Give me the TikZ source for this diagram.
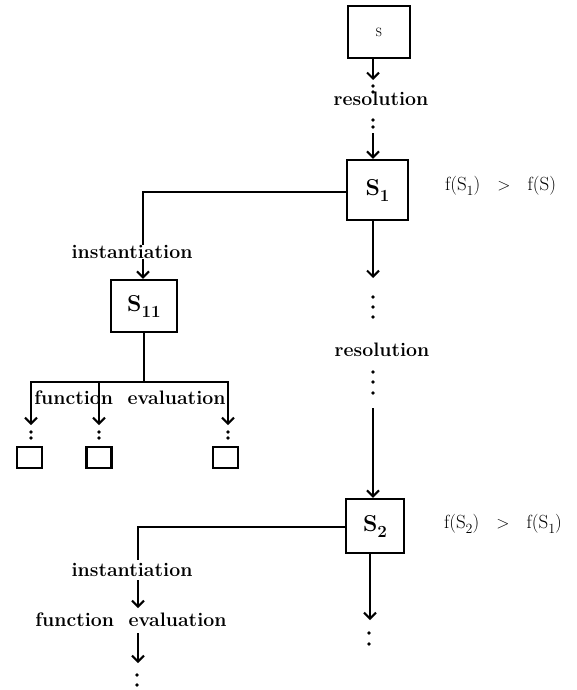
\documentclass[tikz,border=0pt]{standalone}
\usepackage{fontspec}
\usetikzlibrary{arrows.meta}
\newcommand\mySsub[1]{{\fontsize{23}{24}\selectfont\bfseries S\raisebox{-6pt}{\fontsize{17}{17}\selectfont #1}}}
\newcommand\myRsub[1]{\raisebox{-5pt}{\fontsize{14}{14}\selectfont #1}}
\begin{document}
\begin{tikzpicture}[x=1pt,y=-1pt, line width=2.1pt,
  arr/.style={-{Straight Barb[length=6pt,width=12pt]}},
  box/.style={draw, line width=2.1pt, inner sep=0pt},
  smallbox/.style={draw, line width=2.1pt, inner sep=0pt, minimum width=25pt, minimum height=21pt},
  lab/.style={font=\fontsize{19.5}{21}\selectfont\bfseries, inner sep=0pt},
  rel/.style={font=\fontsize{19}{21}\selectfont, inner sep=0pt, anchor=west},
  dotn/.style={circle, fill, inner sep=0pt, minimum size=3.8pt},
]
\useasboundingbox (0,0) rectangle (576,690);

% main boxes
\node[box, minimum width=62pt, minimum height=52pt] (S) at (379,32) {\fontsize{12}{12}\selectfont S};
\node[box, minimum width=61pt, minimum height=60pt] (S1) at (377.5,190) {\mySsub{1}};
\node[box, minimum width=66pt, minimum height=52pt] (S11) at (144,306) {\mySsub{11}};
\node[box, minimum width=58pt, minimum height=54pt] (S2) at (375,526) {\mySsub{2}};

% relations
\node[rel] (f1) at (444,186) {f(S\myRsub{1})\hspace{0.9em}$>$\hspace{0.9em}f(S)};
\node[rel] (f2) at (443,524) {f(S\myRsub{2})\hspace{0.9em}$>$\hspace{0.9em}f(S\myRsub{1})};

% S -> S1
\coordinate (a1) at (373,80);
\draw[arr] (S.south -| a1) -- (a1);
\node[dotn] (d1) at (373,86) {};
\node[dotn] (d2) at (373,92) {};
\node[lab] (r1) at (381,99) {resolution};
\node[dotn] (d3) at (373,120) {};
\node[dotn] (d4) at (373,127) {};
\coordinate (a2) at (373,133);
\draw[arr] (a2) -- (a2 |- S1.north);

% S1 -> S2
\coordinate (a3) at (373,278);
\draw[arr] (a3 |- S1.south) -- (a3);
\node[dotn] (d5) at (373,297) {};
\node[dotn] (d6) at (373,307) {};
\node[dotn] (d7) at (373,317) {};
\node[lab] (r2) at (382,350) {resolution};
\node[dotn] (d8) at (373,372) {};
\node[dotn] (d9) at (373,382) {};
\node[dotn] (d10) at (373,393) {};
\coordinate (a4) at (373,408);
\draw[arr] (a4) -- (a4 |- S2.north);

% S1 -> S11
\coordinate (b1) at (143,192);
\coordinate (b2) at (143,245);
\draw (S1.west |- b1) -- (b1) -- (b2);
\node[lab] (i1) at (132,252) {instantiation};
\coordinate (b3) at (143,259);
\draw[arr] (b3) -- (b3 |- S11.north);

% S11 -> function evaluation
\coordinate (c0) at (144,382);
\coordinate (cm) at (99,382);
\coordinate (tl) at (31,425);
\coordinate (tm) at (99,425);
\coordinate (tr) at (228,425);
\draw (S11.south) -- (c0);
\draw[arr] (c0) -| (tl);
\draw[arr] (c0) -| (tr);
\draw[arr] (cm) -- (tm);
\node[lab] (fe1) at (130,398) {function\hspace{0.75em}evaluation};
\node[dotn] (e1a) at (31,432) {};
\node[dotn] (e1b) at (31,438) {};
\node[dotn] (e2a) at (99,432) {};
\node[dotn] (e2b) at (99,438) {};
\node[dotn] (e3a) at (228,432) {};
\node[dotn] (e3b) at (228,438) {};
\node[smallbox] (q1) at (29.5,457.5) {};
\node[smallbox] (q2) at (99,457.5) {};
\node[smallbox] (q3) at (225.5,457.5) {};

% S2 -> instantiation -> function evaluation
\coordinate (g1) at (138,527);
\coordinate (g2) at (138,560);
\draw (S2.west |- g1) -- (g1) -- (g2);
\node[lab] (i2) at (132,570) {instantiation};
\coordinate (g3) at (138,580);
\coordinate (g4) at (138,608);
\draw[arr] (g3) -- (g4);
\node[lab] (fe2) at (131,620) {function\hspace{0.75em}evaluation};
\coordinate (g5) at (138,633);
\coordinate (g6) at (138,663);
\draw[arr] (g5) -- (g6);
\node[dotn] (h1) at (137,675) {};
\node[dotn] (h2) at (137,685) {};

% S2 -> down
\coordinate (k1) at (370,620);
\draw[arr] (k1 |- S2.south) -- (k1);
\node[dotn] (h3) at (369,633) {};
\node[dotn] (h4) at (369,644) {};
\end{tikzpicture}
\end{document}
